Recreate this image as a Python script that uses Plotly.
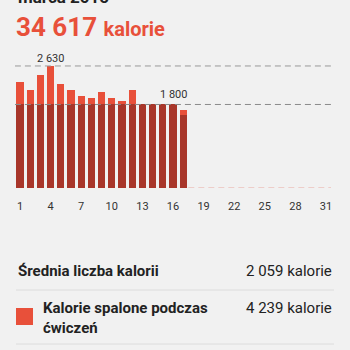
import plotly.graph_objects as go

# Daily calories for March (days 1-17 recorded, rest of month still empty)
days = list(range(1, 32))
base_kcal = [1800] * 16 + [1578] + [0] * 14
exercise_kcal = [480, 320, 640, 830, 450, 305, 185, 135, 265, 130, 80, 320,
                 0, 0, 0, 0, 99] + [0] * 14
tick_days = [1, 4, 7, 10, 13, 16, 19, 22, 25, 28, 31]

max_day, max_value = 4, 2630
goal_day, goal_value = 16, 1800
last_day = 17

title_month = "marca 2015"
total_text = "34 617"
avg_label, avg_value = "Średnia liczba kalorii", "2 059 kalorie"
ex_label, ex_value = "Kalorie spalone podczas<br>ćwiczeń", "4 239 kalorie"

W = H = 350
BG = "#f1f1f1"
DARK = "#a8362a"
LIGHT = "#e8503a"
FONT = "Roboto"


def py(px):
    """Pixel row from the top -> paper y."""
    return 1 - px / H


def pxx(px):
    return px / W


fig = go.Figure()
fig.add_bar(x=days, y=base_kcal, marker=dict(color=DARK, line_width=0),
            hoverinfo="skip")
fig.add_bar(x=days, y=exercise_kcal, marker=dict(color=LIGHT, line_width=0),
            hoverinfo="skip")

x0, x1 = 0.5, 31.5
shapes = [
    dict(type="line", xref="x", yref="y", x0=x0, x1=x1, y0=max_value, y1=max_value,
         line=dict(color="#9a9a9a", width=1, dash="6px,4px")),
    dict(type="line", xref="x", yref="y", x0=x0, x1=x1, y0=goal_value, y1=goal_value,
         line=dict(color="#8a8a8a", width=1, dash="6px,4px")),
    dict(type="line", xref="x", yref="y", x0=last_day + 0.5, x1=x1, y0=0, y1=0,
         line=dict(color="#e8a8a0", width=1, dash="6px,4px")),
    dict(type="line", xref="paper", yref="paper", x0=pxx(16), x1=pxx(334),
         y0=py(290), y1=py(290), line=dict(color="#dcdcdc", width=1)),
    dict(type="line", xref="paper", yref="paper", x0=pxx(16), x1=pxx(334),
         y0=py(344), y1=py(344), line=dict(color="#dcdcdc", width=1)),
    dict(type="rect", xref="paper", yref="paper", x0=pxx(16), x1=pxx(33),
         y0=py(325), y1=py(308), fillcolor=LIGHT, line_width=0),
]

annotations = [
    dict(x=pxx(16), y=py(-3), text=f"<b>{title_month}</b>", xanchor="left",
         yanchor="middle", font=dict(size=17, color="#222", family=FONT)),
    dict(x=pxx(14), y=py(27), xanchor="left", yanchor="middle",
         text=f"<b>{total_text}</b> <span style='font-size:20px'><b>kalorie</b></span>",
         font=dict(size=26, color=LIGHT, family=FONT)),
    dict(x=max_day, y=max_value, xref="x", yref="y", yshift=-1, text=f"{max_value:,}".replace(",", " "),
         showarrow=False, yanchor="bottom", font=dict(size=11, color="#333", family=FONT)),
    dict(x=goal_day, y=goal_value, xref="x", yref="y", yshift=1, text=f"{goal_value:,}".replace(",", " "),
         showarrow=False, yanchor="bottom", font=dict(size=11, color="#333", family=FONT)),
    dict(x=pxx(16), y=py(271), text=f"<b>{avg_label}</b>", xanchor="left",
         yanchor="middle", font=dict(size=15, color="#222", family=FONT)),
    dict(x=pxx(334), y=py(271), text=avg_value, xanchor="right",
         yanchor="middle", font=dict(size=15, color="#222", family=FONT)),
    dict(x=pxx(41), y=py(318), text=f"<b>{ex_label}</b>", xanchor="left", align="left",
         yanchor="middle", font=dict(size=15, color="#222", family=FONT)),
    dict(x=pxx(334), y=py(308), text=ex_value, xanchor="right",
         yanchor="middle", font=dict(size=15, color="#222", family=FONT)),
]
for a in annotations:
    a.setdefault("xref", "paper")
    a.setdefault("yref", "paper")
    a.setdefault("showarrow", False)

y_top_px = 188 - 3000 * 0.0464
fig.update_layout(
    width=W, height=H, barmode="stack", bargap=0.31, showlegend=False,
    margin=dict(l=0, r=0, t=0, b=0),
    paper_bgcolor=BG, plot_bgcolor=BG,
    font=dict(family=FONT),
    shapes=shapes, annotations=annotations,
    xaxis=dict(domain=[pxx(14.9), pxx(331.1)], range=[x0, x1],
               tickvals=tick_days, ticktext=[str(d) for d in tick_days],
               ticks="outside", ticklen=8, tickcolor="rgba(0,0,0,0)",
               tickfont=dict(size=11, color="#333", family=FONT),
               showgrid=False, zeroline=False, showline=False, fixedrange=True),
    yaxis=dict(domain=[py(188), py(y_top_px)], range=[0, 3000], visible=False,
               showgrid=False, fixedrange=True),
)

fig.write_html("out.html")
